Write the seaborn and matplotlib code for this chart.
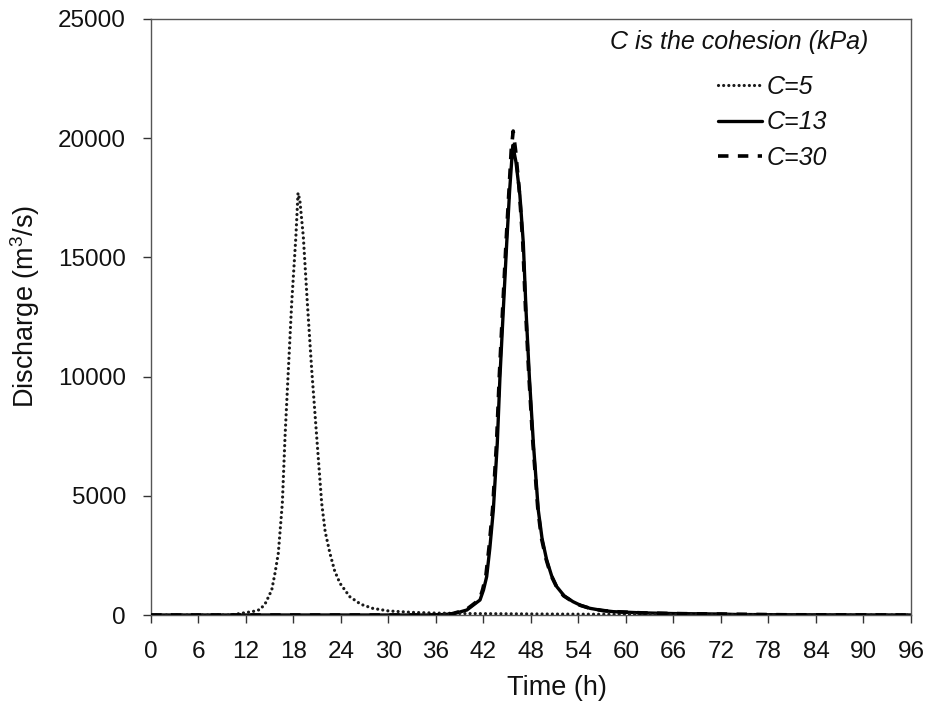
import matplotlib
matplotlib.use("Agg")
import matplotlib.pyplot as plt
import seaborn as sns
import pandas as pd

# ---- data ----
t_c5 = [0, 10, 11.2, 12.9, 13.8, 14.5, 15.25, 15.66, 16.08, 16.59, 16.93, 17.35, 17.77, 18.3, 18.57,
        18.8, 19.24, 19.75, 20.3, 20.93, 21.56, 22.0, 22.6, 23.2, 23.87, 25.1, 26.5, 28, 30, 33, 36, 40,
        50, 60, 70, 96]
q_c5 = [0, 0, 60, 150, 230, 520, 1050, 1750, 2590, 4690, 7480, 10280, 13080, 15870, 17700,
        17400, 15870, 13080, 10280, 7480, 4690, 3500, 2590, 1850, 1330, 770, 450, 280, 170, 110, 80, 60,
        40, 25, 15, 0]

t_c13 = [0, 36, 38.2, 39.9, 41.56, 42.0, 42.4, 42.8, 43.24, 43.74, 44.08, 44.5, 44.93, 45.3, 45.55,
         45.7, 46.1, 46.6, 47.03, 47.37, 47.79, 48.3, 48.92, 49.4, 49.98, 50.6, 51.25, 52.2, 53.3,
         54.3, 55.45, 57, 58.4, 62, 66, 72, 74, 80, 96]
q_c13 = [0, 0, 50, 210, 630, 1050, 1610, 2800, 4400, 7200, 10000, 12790, 15590, 17800, 19000,
         19700, 19000, 17600, 15590, 12790, 10000, 7200, 4400, 3200, 2310, 1650, 1190, 800, 560,
         400, 280, 190, 140, 90, 60, 40, 20, 10, 0]

t_c30 = [0, 36, 38.0, 39.8, 41.5, 41.9, 42.3, 42.7, 43.15, 43.65, 44.0, 44.42, 44.85, 45.25, 45.5,
         45.75, 46.05, 46.5, 46.95, 47.3, 47.72, 48.22, 48.85, 49.3, 49.9, 50.5, 51.2, 52.1, 53.2,
         54.2, 55.4, 56.9, 58.3, 62, 66, 72, 80, 96]
q_c30 = [0, 0, 50, 220, 650, 1080, 1650, 2850, 4450, 7250, 10050, 12850, 15650, 18000, 19500,
         20300, 19500, 17900, 15700, 12900, 10100, 7300, 4500, 3250, 2350, 1680, 1200, 810, 570,
         410, 285, 195, 145, 90, 60, 40, 10, 0]

series_labels = ["C=5", "C=13", "C=30"]
legend_title = "C is the cohesion (kPa)"
x_ticks = list(range(0, 97, 6))
y_ticks = [0, 5000, 10000, 15000, 20000, 25000]

# ---- style ----
sns.set_style("ticks")
plt.rcParams['font.family'] = ['Liberation Sans', 'DejaVu Sans']
plt.rcParams['mathtext.fontset'] = 'custom'
plt.rcParams['mathtext.rm'] = 'Liberation Sans'
plt.rcParams['mathtext.it'] = 'Liberation Sans:italic'

fig = plt.figure(figsize=(9.29, 7.11), dpi=100)
ax = fig.add_axes([151/929, 1 - 615/711, 760/929, 596/711])

df5 = pd.DataFrame({"t": t_c5, "q": q_c5})
df13 = pd.DataFrame({"t": t_c13, "q": q_c13})
df30 = pd.DataFrame({"t": t_c30, "q": q_c30})

sns.lineplot(data=df5, x="t", y="q", ax=ax, color="#1a1a1a", linewidth=2.3,
             label=series_labels[0], zorder=3)
sns.lineplot(data=df13, x="t", y="q", ax=ax, color="black", linewidth=2.4,
             label=series_labels[1], zorder=2)
sns.lineplot(data=df30, x="t", y="q", ax=ax, color="black", linewidth=2.6,
             label=series_labels[2], zorder=4)
lines = ax.get_lines()
lines[0].set_linestyle((0, (0.01, 1.6)))
lines[0].set_dash_capstyle("round")
lines[2].set_linestyle((0, (2.9, 2.6)))

ax.set_xlim(0, 96)
ax.set_ylim(0, 25000)
ax.set_xticks(x_ticks)
ax.set_yticks(y_ticks)
ax.tick_params(axis="both", labelsize=17.5, length=6, width=1, color="#333333",
               direction="out", labelcolor="#111111")
ax.tick_params(axis="x", pad=13)
ax.tick_params(axis="y", pad=12)
for s in ax.spines.values():
    s.set_color("#555555")
    s.set_linewidth(1.0)

ax.set_xlabel("Time (h)", fontsize=19.5, color="#111111")
ax.xaxis.set_label_coords((557 - 151) / 760, -0.100)
ax.set_ylabel("Discharge (m$^{3}$/s)", fontsize=19.5, color="#111111")
ax.yaxis.set_label_coords((42 - 151) / 760, (615 - 306) / 596)

leg = ax.legend(loc="upper left", bbox_to_anchor=(0.746, 0.906), frameon=False,
                handlelength=1.76, handletextpad=0.2, labelspacing=0.45,
                borderpad=0, borderaxespad=0, prop={"style": "italic", "size": 18})
for txt in leg.get_texts():
    txt.set_color("#111111")
ax.text((739 - 151) / 760, (615 - 41.7) / 596, legend_title, transform=ax.transAxes,
        ha="center", va="center", fontsize=18, style="italic", color="#111111")

fig.savefig("out.png", dpi=100)
